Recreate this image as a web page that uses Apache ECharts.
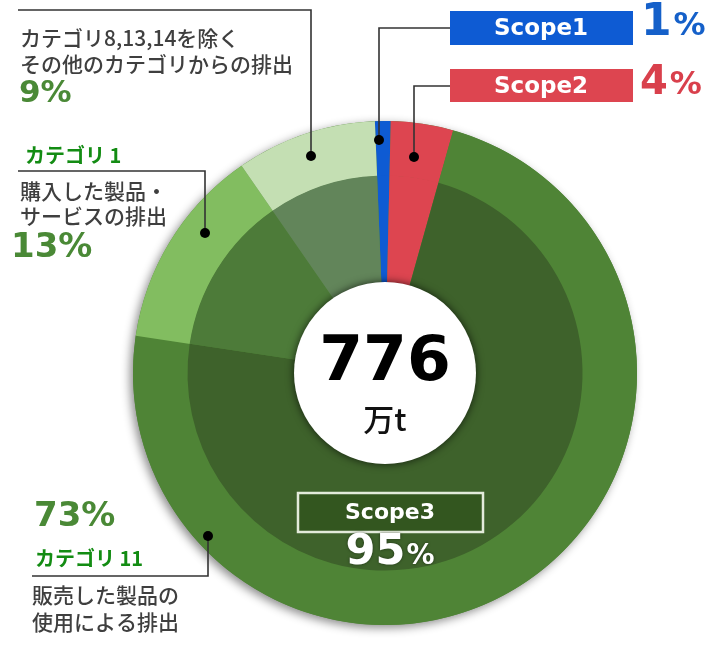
<!DOCTYPE html>
<html>
<head>
<meta charset="utf-8">
<script src="https://cdn.jsdelivr.net/npm/echarts@6/dist/echarts.min.js"></script>
<style>
html, body { margin: 0; padding: 0; background: #fff; }
#chart { width: 710px; height: 645px; }
</style>
</head>
<body>
<div id="chart"></div>
<script>
// ---- data ----
var totalEmission = 776; // 万t
var sliceNames = ['Scope1', 'Scope2', 'カテゴリ11', 'カテゴリ1', 'その他'];
var sliceShares = [1, 4, 73, 13, 9];
var scopeNames = ['Scope1', 'Scope2', 'Scope3'];
var scopeShares = [1, 4, 95];

// ---- styles ----
var outerColors = ['#0e5bd3', '#dd4550', '#4f8436', '#82bd60', '#c4dfb3'];
var innerColors = ['#0e5bd3', '#dd4550', '#3e622b', '#4d7b39', '#62855a'];
var CJK = "'Noto Sans CJK JP', sans-serif";
var LAT = "'DejaVu Sans', 'Noto Sans CJK JP', sans-serif";
var GREEN = '#4a8936';
var CAT_GREEN = '#138c13';
var GRAY = '#3f3f3f';
var center = [385, 373];

var myChart = echarts.init(document.getElementById('chart'));

function sliceData(colors) {
    return sliceShares.map(function (v, i) {
        return { name: sliceNames[i], value: v, itemStyle: { color: colors[i] } };
    });
}

function pct(name) {
    var i = sliceNames.indexOf(name);
    return sliceShares[i] + '%';
}

// 引き出し線
function leader(points) {
    return {
        type: 'polyline',
        shape: { points: points },
        style: { stroke: '#333', lineWidth: 1.6, fill: null },
        z: 10
    };
}
function dot(p) {
    return { type: 'circle', shape: { cx: p[0], cy: p[1], r: 5 }, style: { fill: '#000' }, z: 11 };
}
function txt(x, y, text, font, color, extra) {
    var st = {
        text: text, x: x, y: y, fill: color, font: font,
        align: 'left', verticalAlign: 'middle'
    };
    if (extra) { for (var k in extra) st[k] = extra[k]; }
    return { type: 'text', style: st, z: 12 };
}

var leaders = [
    [[379, 140], [379, 28], [450, 28]],   // Scope1
    [[414, 157], [414, 86], [450, 86]],   // Scope2
    [[311, 156], [311, 10], [18, 10]],    // その他
    [[205, 233], [205, 171], [18, 171]],  // カテゴリ1
    [[208, 536], [208, 576], [32, 576]]   // カテゴリ11
];

var graphics = [];
leaders.forEach(function (p) {
    graphics.push(leader(p));
    graphics.push(dot(p[0]));
});

// Scope1 / Scope2 boxes
graphics.push({ type: 'rect', shape: { x: 450, y: 11, width: 183, height: 34 }, style: { fill: outerColors[0] }, z: 10 });
graphics.push(txt(541, 29, scopeNames[0], 'bold 23px ' + LAT, '#fff', { align: 'center' }));
graphics.push({ type: 'rect', shape: { x: 450, y: 69, width: 183, height: 33 }, style: { fill: outerColors[1] }, z: 10 });
graphics.push(txt(541, 87, scopeNames[1], 'bold 23px ' + LAT, '#fff', { align: 'center' }));
graphics.push({
    type: 'text', z: 12,
    style: {
        x: 641, y: 46, verticalAlign: 'bottom', align: 'left',
        text: '{n|' + scopeShares[0] + '}{p|%}',
        rich: {
            n: { font: 'bold 44px ' + LAT, fill: '#1560c9', verticalAlign: 'bottom', lineHeight: 48 },
            p: { font: 'bold 32px ' + LAT, fill: '#1560c9', verticalAlign: 'bottom', lineHeight: 48, padding: [0, 0, 3, 2] }
        }
    }
});
graphics.push({
    type: 'text', z: 12,
    style: {
        x: 640, y: 104, verticalAlign: 'bottom', align: 'left',
        text: '{n|' + scopeShares[1] + '}{p|%}',
        rich: {
            n: { font: 'bold 40px ' + LAT, fill: '#d9404c', verticalAlign: 'bottom', lineHeight: 44 },
            p: { font: 'bold 32px ' + LAT, fill: '#d9404c', verticalAlign: 'bottom', lineHeight: 44, padding: [0, 0, 2, 2] }
        }
    }
});

// その他
graphics.push(txt(20, 38, 'カテゴリ8,13,14を除く', '500 21px ' + CJK, GRAY));
graphics.push(txt(20, 64, 'その他のカテゴリからの排出', '500 21px ' + CJK, GRAY));
graphics.push(txt(19, 94, pct('その他'), 'bold 31px ' + LAT, GREEN));

// カテゴリ1
graphics.push(txt(25, 155, 'カテゴリ 1', 'bold 20px ' + CJK, CAT_GREEN));
graphics.push(txt(20, 191, '購入した製品・', '500 21px ' + CJK, GRAY));
graphics.push(txt(20, 216, 'サービスの排出', '500 21px ' + CJK, GRAY));
graphics.push(txt(11, 248, pct('カテゴリ1'), 'bold 34px ' + LAT, GREEN));

// カテゴリ11
graphics.push(txt(34, 517, pct('カテゴリ11'), 'bold 34px ' + LAT, GREEN));
graphics.push(txt(35, 558, 'カテゴリ 11', 'bold 20px ' + CJK, CAT_GREEN));
graphics.push(txt(32, 595, '販売した製品の', '500 21px ' + CJK, GRAY));
graphics.push(txt(32, 622, '使用による排出', '500 21px ' + CJK, GRAY));

// Scope3 box
graphics.push({
    type: 'rect', shape: { x: 298, y: 493, width: 185, height: 39 },
    style: { fill: '#33561f', stroke: '#e3ebdb', lineWidth: 2.5 }, z: 10
});
graphics.push(txt(390, 513, scopeNames[2], 'bold 22px ' + LAT, '#fff', { align: 'center' }));
graphics.push({
    type: 'text', z: 12,
    style: {
        x: 390, y: 574, verticalAlign: 'bottom', align: 'center',
        text: '{n|' + scopeShares[2] + '}{p|%}',
        textShadowColor: 'rgba(0,0,0,0.5)', textShadowBlur: 3,
        rich: {
            n: { font: 'bold 43px ' + LAT, fill: '#fff', verticalAlign: 'bottom', lineHeight: 46 },
            p: { font: 'bold 28px ' + LAT, fill: '#fff', verticalAlign: 'bottom', lineHeight: 46, padding: [0, 0, 3, 1] }
        }
    }
});

var option = {
    animation: false,
    backgroundColor: '#fff',
    series: [
        { // 外周の影
            type: 'pie', silent: true, center: center, radius: [0, 252],
            label: { show: false }, labelLine: { show: false },
            itemStyle: { color: '#4f8436', shadowBlur: 10, shadowColor: 'rgba(0,0,0,0.45)', shadowOffsetX: -3, shadowOffsetY: 3 },
            data: [{ name: 'total', value: totalEmission }], z: 1
        },
        { // 外側リング
            type: 'pie', silent: true, center: center, radius: [197, 252],
            startAngle: 92.3, clockwise: true,
            label: { show: false }, labelLine: { show: false },
            itemStyle: { borderWidth: 0 },
            data: sliceData(outerColors), z: 2
        },
        { // 内側リング
            type: 'pie', silent: true, center: center, radius: [88, 197.5],
            startAngle: 92.3, clockwise: true,
            label: { show: false }, labelLine: { show: false },
            itemStyle: { borderWidth: 0 },
            data: sliceData(innerColors), z: 3
        },
        { // 中央の白丸
            type: 'pie', silent: true, center: center, radius: [0, 91],
            itemStyle: { color: '#fff', shadowBlur: 8, shadowColor: 'rgba(0,0,0,0.7)' },
            label: {
                show: true, position: 'center',
                formatter: '{a|' + totalEmission + '}\n{b|万t}',
                rich: {
                    a: { fontSize: 63, fontWeight: 'bold', color: '#000', fontFamily: LAT, lineHeight: 92 },
                    b: { fontSize: 31, fontWeight: 500, color: '#111', fontFamily: CJK, lineHeight: 18 }
                }
            },
            labelLine: { show: false },
            data: [{ name: '総排出量', value: totalEmission }], z: 4
        }
    ],
    graphic: graphics
};

myChart.setOption(option);
</script>
</body>
</html>
